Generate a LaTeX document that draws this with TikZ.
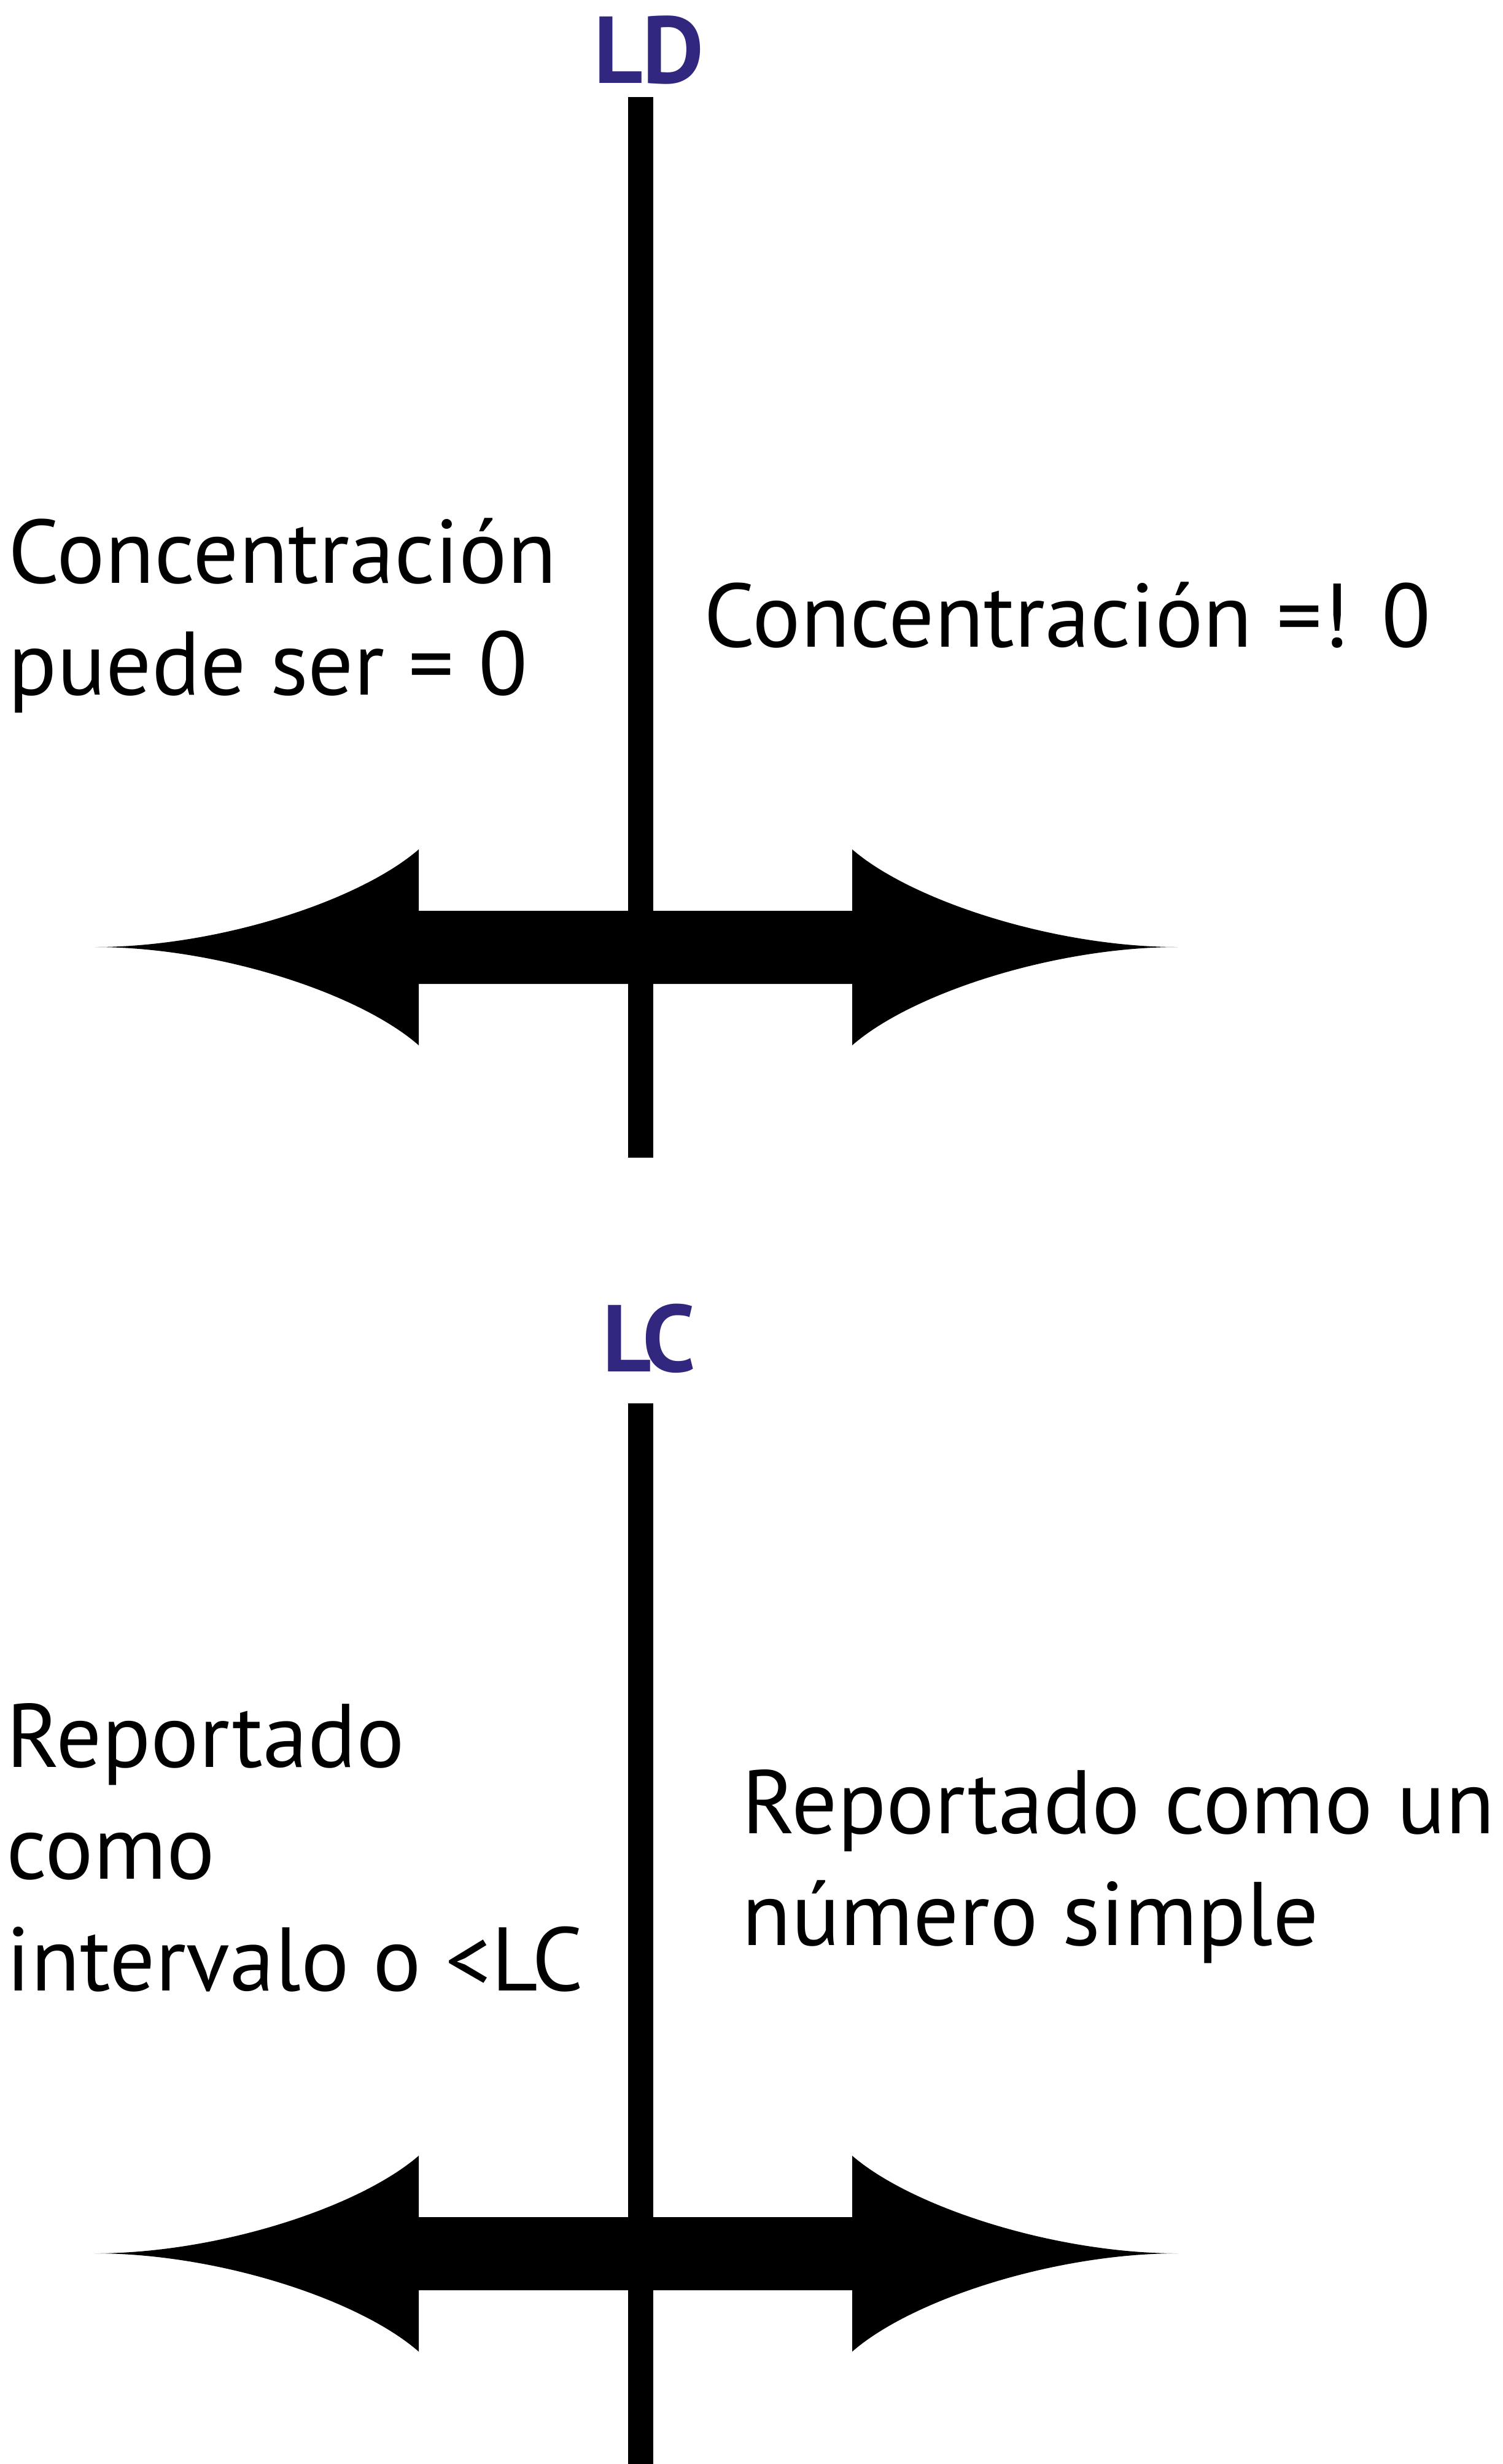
\documentclass[tikz,border=0pt]{standalone}
\usepackage{fontspec}
\setmainfont{PT Sans}
\definecolor{limcolor}{RGB}{49,39,127}

\begin{document}
\begin{tikzpicture}[line width=0.5pt,
    limlabel/.style={font=\fontsize{44}{52}\selectfont\bfseries, text=limcolor, inner sep=0pt, anchor=base},
    bodytext/.style={font=\fontsize{41.8}{51.7}\selectfont, align=left, inner sep=0pt, anchor=base west},
    axisline/.style={line width=0.41cm, line cap=butt},
    arrowfill/.style={fill=black}]
  \useasboundingbox (0,0) rectangle (24.48,-40.12);
  % the two limits, the second one shifted down
  \foreach \yo/\nm in {0/ld, 21.27/lc}{
    \begin{scope}[yshift=-\yo cm]
      \coordinate (\nm top) at (10.435,-1.58);
      \coordinate (\nm bot) at (10.435,-18.85);
      \fill[arrowfill] (1.55,-15.42) .. controls (3.55,-15.42) and (5.85,-14.67) .. (6.82,-13.83)
        -- (6.82,-14.83) -- (13.88,-14.83) -- (13.88,-13.83)
        .. controls (14.85,-14.67) and (17.18,-15.42) .. (19.18,-15.42)
        .. controls (17.18,-15.42) and (14.85,-16.17) .. (13.88,-17.02)
        -- (13.88,-16.02) -- (6.82,-16.02) -- (6.82,-17.02)
        .. controls (5.85,-16.17) and (3.55,-15.42) .. (1.55,-15.42) -- cycle;
      \draw[axisline] (\nm top) -- (\nm bot);
    \end{scope}
  }
  \node[limlabel] (ld) at (10.57,-1.35) {LD};
  \node[limlabel] (lc) at (10.575,-22.33) {LC};
  % texts on both sides (base = last line)
  \node[bodytext] (cerook) at (0.13,-11.31) {Concentración\\puede ser = 0};
  \node[bodytext] (cnotzero) at (11.46,-10.53) {Concentración =! 0};
  \node[bodytext] (repint) at (0.10,-32.41) {Reportado\\como\\intervalo o <LC};
  \node[bodytext] (repnum) at (12.08,-31.67) {Reportado como un\\número simple};
\end{tikzpicture}
\end{document}
